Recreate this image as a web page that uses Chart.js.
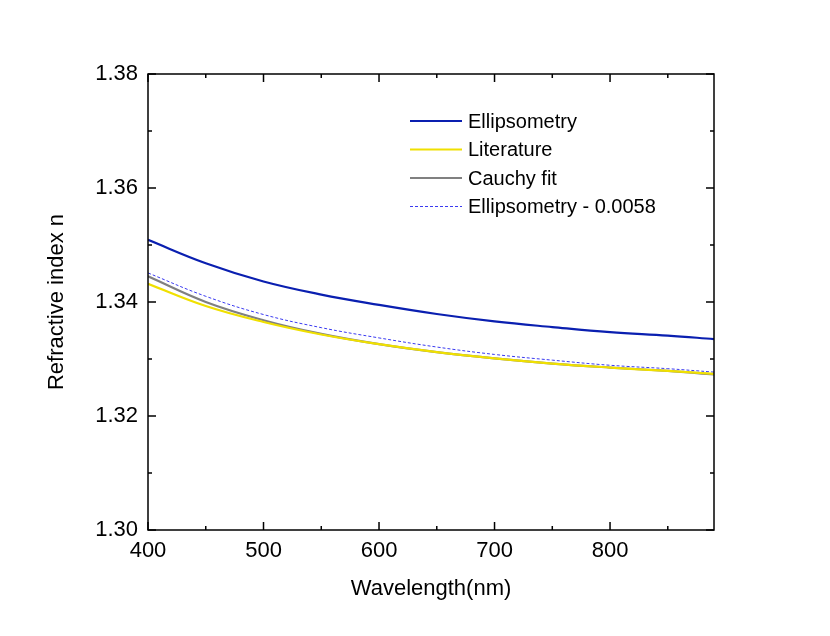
<!DOCTYPE html>
<html>
<head>
<meta charset="utf-8">
<script src="https://cdn.jsdelivr.net/npm/chart.js@4"></script>
<style>
  body { margin: 0; background: #fff; }
  #wrap { width: 830px; height: 636px; }
</style>
</head>
<body>
<div id="wrap"><canvas id="c"></canvas></div>
<script>
// wavelength grid (nm)
const wavelengths = [400, 450, 500, 550, 600, 650, 700, 750, 800, 850, 890];
const ellipsometry = [1.3509, 1.3468, 1.3436, 1.3413, 1.3395, 1.3379, 1.3366, 1.3356, 1.3347, 1.3341, 1.3335];
const literature = [1.3432, 1.3393, 1.3365, 1.3343, 1.3326, 1.3312, 1.3301, 1.3292, 1.3285, 1.3279, 1.3274];
const cauchy = [1.3445, 1.3400, 1.3368, 1.3344, 1.3326, 1.3312, 1.3301, 1.3292, 1.3285, 1.3279, 1.3273];
const shift = 0.0058;
const xTicks = [400, 500, 600, 700, 800];
const yTicks = [1.30, 1.32, 1.34, 1.36, 1.38];

const pts = arr => wavelengths.map((w, i) => ({ x: w, y: arr[i] }));

// frame + inward ticks (major and minor)
const framePlugin = {
    id: 'frame',
    afterDraw(chart) {
        const { ctx, chartArea: a, scales: { x, y } } = chart;
        ctx.save();
        ctx.strokeStyle = '#000';
        ctx.lineWidth = 1.5;
        ctx.strokeRect(a.left, a.top, a.right - a.left, a.bottom - a.top);
        for (let v = 400; v <= 890; v += 50) {
            const px = x.getPixelForValue(v);
            const len = v % 100 === 0 ? 8 : 4;
            ctx.beginPath();
            ctx.moveTo(px, a.bottom); ctx.lineTo(px, a.bottom - len);
            ctx.moveTo(px, a.top); ctx.lineTo(px, a.top + len);
            ctx.stroke();
        }
        for (let k = 0; k <= 8; k++) {
            const py = y.getPixelForValue(1.30 + k * 0.01);
            const len = k % 2 === 0 ? 8 : 4;
            ctx.beginPath();
            ctx.moveTo(a.left, py); ctx.lineTo(a.left + len, py);
            ctx.moveTo(a.right, py); ctx.lineTo(a.right - len, py);
            ctx.stroke();
        }
        // legend
        ctx.font = '20px "Liberation Sans", Arial, sans-serif';
        ctx.textBaseline = 'middle';
        chart.data.datasets.forEach((ds, i) => {
            const ly = 121 + i * 28.5;
            ctx.strokeStyle = ds.borderColor;
            ctx.lineWidth = ds.borderWidth;
            ctx.setLineDash(ds.borderDash || []);
            ctx.beginPath();
            ctx.moveTo(410, ly); ctx.lineTo(462, ly);
            ctx.stroke();
            ctx.setLineDash([]);
            ctx.fillStyle = '#000';
            ctx.fillText(ds.label, 468, ly + 1);
        });
        ctx.restore();
    }
};

new Chart(document.getElementById('c'), {
    type: 'line',
    data: {
        datasets: [
            { label: 'Ellipsometry', data: pts(ellipsometry), borderColor: '#0a1fb0', borderWidth: 2.2 },
            { label: 'Literature', data: pts(literature), borderColor: '#f0e000', borderWidth: 2.2 },
            { label: 'Cauchy fit', data: pts(cauchy), borderColor: '#808080', borderWidth: 2.2 },
            { label: 'Ellipsometry - 0.0058', data: pts(ellipsometry.map(v => v - shift)), borderColor: '#3a3af0', borderWidth: 1, borderDash: [3, 2] }
        ]
    },
    options: {
        responsive: true,
        maintainAspectRatio: false,
        animation: false,
        elements: { point: { radius: 0 }, line: { tension: 0.4 } },
        layout: { padding: { top: 74, right: 116, left: 40, bottom: 30 } },
        plugins: { legend: { display: false }, tooltip: { enabled: false } },
        scales: {
            x: {
                type: 'linear', min: 400, max: 890,
                grid: { display: false, drawTicks: false },
                border: { display: false },
                afterBuildTicks: s => { s.ticks = xTicks.map(v => ({ value: v })); },
                afterFit: s => { s.height = 76; },
                ticks: { color: '#000', padding: 8, font: { size: 22, family: '"Liberation Sans", Arial' } },
                title: { display: true, text: 'Wavelength(nm)', color: '#000', padding: { top: 10 }, font: { size: 22, family: '"Liberation Sans", Arial' } }
            },
            y: {
                min: 1.30, max: 1.38,
                grid: { display: false, drawTicks: false },
                border: { display: false },
                afterBuildTicks: s => { s.ticks = yTicks.map(v => ({ value: v })); },
                afterFit: s => { s.width = 108; },
                ticks: { color: '#000', padding: 10, font: { size: 22, family: '"Liberation Sans", Arial' }, callback: v => v.toFixed(2) },
                title: { display: true, text: 'Refractive index n', color: '#000', padding: { bottom: 12 }, font: { size: 22, family: '"Liberation Sans", Arial' } }
            }
        }
    },
    plugins: [framePlugin]
});
</script>
</body>
</html>
